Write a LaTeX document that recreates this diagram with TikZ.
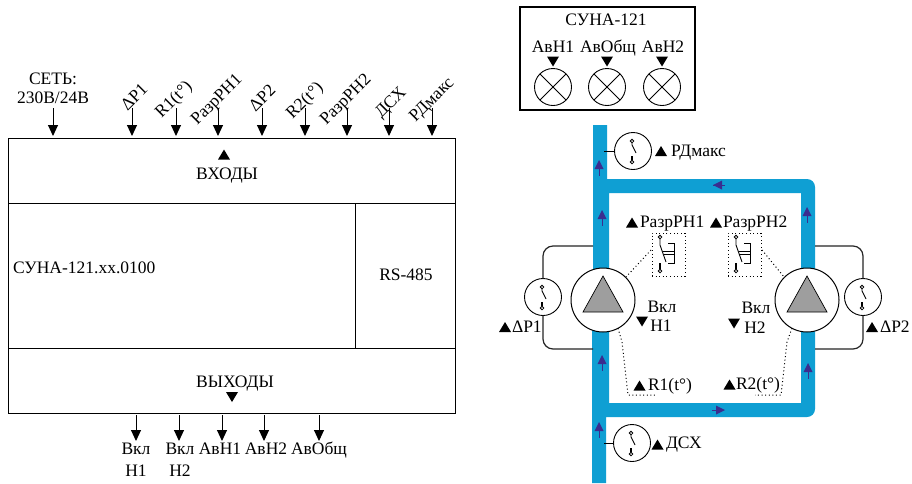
\documentclass[tikz,border=0pt]{standalone}
\usepackage{fontspec}
\setmainfont{Liberation Serif}
\usetikzlibrary{arrows.meta}
\definecolor{pipeblue}{HTML}{0F9FD3}
\definecolor{flowpurple}{HTML}{3A2D8F}
\newcommand{\uptri}[2]{\fill[black] (#1-6,#2+5) -- (#1,#2-5) -- (#1+6,#2+5) -- cycle;}
\newcommand{\dntri}[2]{\fill[black] (#1-6,#2-5) -- (#1+6,#2-5) -- (#1,#2+5) -- cycle;}
\newcommand{\flowup}[2]{\draw[flowpurple,line width=0.6pt] (#1,#2+8) -- (#1,#2+16); \fill[flowpurple] (#1,#2) -- (#1+4.5,#2+9) -- (#1-4.5,#2+9) -- cycle;}
\begin{document}
\begin{tikzpicture}[x=1pt,y=-1pt,
  every node/.style={font=\fontsize{17.5}{19}\selectfont,inner sep=0pt,outer sep=0pt},
  lbl/.style={text height=11.6pt,text depth=0pt},
  boxline/.style={draw=black,line width=1pt},
  sig/.style={black,line width=1pt,-{Triangle[length=11pt,width=10pt]}},
  slab/.style={lbl,rotate=45,anchor=center},
  lamp/.style={circle,draw=black,line width=0.9pt,fill=white,minimum size=37pt},
  sensor/.style={circle,draw=black,line width=0.9pt,fill=white,minimum size=37pt},
  pump/.style={circle,draw=black,line width=1pt,fill=white,minimum size=64pt},
  dots/.style={black,line width=1pt,dash pattern=on 1pt off 2.6pt},
  tube/.style={draw=black!85,line width=1.2pt,rounded corners=10pt},
  pics/sw/.style={code={
    \draw[line width=0.8pt,fill=white] (-1,-10) circle (1.8);
    \draw[line width=0.8pt,fill=white] (-1,11) circle (1.8);
    \draw[line width=0.9pt] (-1,-8.2) -- (-1,-6) -- (3,2);
    \draw[line width=1.1pt] (-1,5) -- (-1,9.2);
  }},
  pics/swp/.style={code={
    \draw[line width=0.8pt,fill=white] (0,-17) circle (1.8);
    \draw[line width=0.8pt,fill=white] (0,17) circle (1.8);
    \draw[line width=0.9pt] (0,-15.2) -- (0,-9) -- (6,8);
    \draw[line width=1.1pt] (0,9) -- (0,15.2);
    \draw[line width=0.9pt] (8,-11) -- (14,-11) -- (14,9) -- (8,9);
    \draw[line width=0.9pt] (3,-3) -- (14,-3) (3.5,0) -- (14,0);
  }}
]
\useasboundingbox (0,0) rectangle (912,483);
\fill[white] (0,0) rectangle (912,483);

% left block
\node[boxline,minimum width=447pt,minimum height=65pt,anchor=north west] (inp) at (8,138) {};
\node[boxline,minimum width=347pt,minimum height=145pt,anchor=north west] (core) at (8,203) {};
\node[boxline,minimum width=100pt,minimum height=145pt,anchor=north west] (rs) at (355,203) {};
\node[boxline,minimum width=447pt,minimum height=65pt,anchor=north west] (outp) at (8,348) {};
\node[lbl] (tinp) at (227,174) {ВХОДЫ};
\node[lbl,anchor=west] (tcore) at (13,268) {СУНА-121.хх.0100};
\node[lbl] (trs) at (406,275) {RS-485};
\node[lbl] (toutp) at (235,382) {ВЫХОДЫ};
\uptri{224}{154.5}
\dntri{232}{397}

% top inputs
\node[lbl] (net1) at (53,79) {СЕТЬ:};
\node[lbl] (net2) at (53,98) {230В/24В};
\node[slab] (l1) at (134,97) {ΔР1};
\node[slab] (l2) at (173,99) {R1(t°)};
\node[slab] (l3) at (216,99) {РазрРН1};
\node[slab] (l4) at (262,98) {ΔР2};
\node[slab] (l5) at (304,100) {R2(t°)};
\node[slab] (l6) at (345,99) {РазрРН2};
\node[slab] (l7) at (390,102) {ДСХ};
\node[slab] (l8) at (431,99) {РДмакс};
\foreach \n/\x in {a/53,b/132,c/176,d/218,e/262,f/305,g/347,h/389,i/432}{
  \coordinate (s\n) at (\x,108);
  \coordinate (e\n) at (\x,136);
  \draw[sig] (s\n) -- (e\n);
}

% bottom outputs
\foreach \n/\x in {a/136,b/179,c/222,d/264,e/319}{
  \coordinate (os\n) at (\x,415);
  \coordinate (oe\n) at (\x,441);
  \draw[sig] (os\n) -- (oe\n);
}
\node[lbl] (o1) at (136,449) {Вкл};
\node[lbl] (o1b) at (136,471) {Н1};
\node[lbl] (o2) at (180,449) {Вкл};
\node[lbl] (o2b) at (180,471) {Н2};
\node[lbl] (o3) at (220,449) {АвН1};
\node[lbl] (o4) at (266,449) {АвН2};
\node[lbl] (o5) at (319,449) {АвОбщ};

% alarm panel
\node[draw=black,line width=1.3pt,minimum width=175pt,minimum height=103pt,anchor=north west] (panel) at (520,7) {};
\node[lbl] (ptitle) at (606,20) {СУНА-121};
\node[lbl] (pa) at (553,47) {АвН1};
\node[lbl] (pb) at (608,47) {АвОбщ};
\node[lbl] (pc) at (663,47) {АвН2};
\foreach \x in {553,607,662}{\dntri{\x}{61.5}}
\foreach \n/\x in {la/553,lb/607,lc/662}{
  \node[lamp] (\n) at (\x,87) {};
  \draw[line width=0.8pt] (\n.45) -- (\n.225) (\n.135) -- (\n.315);
}

% pipes
\fill[pipeblue,even odd rule]
  (593,125) -- (607,125) -- (607,179) -- (807,179)
  .. controls (811.4,179) and (815,182.6) .. (815,187) -- (815,409)
  .. controls (815,413.4) and (811.4,417) .. (807,417) -- (606,417)
  -- (606,483) -- (592,483) -- (592,300) -- (593,300) -- cycle
  (609,193) -- (801,193) -- (801,403) -- (609,403) -- cycle;

% flows
\flowup{599}{160}
\flowup{602}{210}
\flowup{602}{355}
\flowup{599}{422}
\flowup{808}{363}
\flowup{807}{207}
\draw[flowpurple,line width=0.6pt] (713,185) -- (725,185);
\fill[flowpurple] (713,185) -- (722,180.5) -- (722,189.5) -- cycle;
\draw[flowpurple,line width=0.6pt] (712,410) -- (722,410);
\fill[flowpurple] (725,410) -- (716,405.5) -- (716,414.5) -- cycle;

% pressure loops
\node[sensor] (dp1) at (543,297) {};
\node[sensor] (dp2) at (863,297) {};
\coordinate (p1t) at (593,246);
\coordinate (p1b) at (593,349);
\coordinate (p2t) at (815,246);
\coordinate (p2b) at (815,349);
\draw[tube] (p1t) -- (543,246) -- (dp1.north);
\draw[tube] (dp1.south) -- (543,349) -- (p1b);
\draw[tube] (p2t) -- (863,246) -- (dp2.north);
\draw[tube] (dp2.south) -- (863,349) -- (p2b);
\pic at (dp1) {sw};
\pic at (dp2) {sw};

% pumps
\node[pump] (pu1) at (603,300) {};
\node[pump] (pu2) at (807,300) {};
\foreach \x in {603,807}{
  \draw[fill=black!38,line width=0.7pt] (\x,276) -- (\x+20,312) -- (\x-20,312) -- cycle;
}

% other sensors
\node[sensor] (rd) at (633,151) {};
\node[sensor] (ds) at (632,443) {};
\coordinate (rdp) at (604,151);
\coordinate (dsp) at (604,443);
\draw[black,line width=0.9pt] (rdp) -- (rd);
\draw[black,line width=0.9pt] (dsp) -- (ds);
\pic at (rd) {sw};
\pic at (ds) {sw};
\uptri{661}{151}
\node[lbl,anchor=west] (trd) at (671,151) {РДмакс};
\uptri{657.5}{444.5}
\node[lbl,anchor=west] (tds) at (666,443) {ДСХ};

% dry-run pressure relays
\node[dots,draw,minimum width=33pt,minimum height=43pt,anchor=north west] (rz1) at (652,233) {};
\node[dots,draw,minimum width=33pt,minimum height=43pt,anchor=north west] (rz2) at (728,233) {};
\pic at (660,254) {swp};
\pic at (736,254) {swp};
\coordinate (rz1a) at (651,250);
\coordinate (rz2a) at (762,250);
\draw[dots] (rz1a) -- (pu1.north east);
\draw[dots] (rz2a) -- (pu2.north west);
\uptri{632}{222.5}
\node[lbl,anchor=west] (trz1) at (640,222) {РазрРН1};
\uptri{716}{222.5}
\node[lbl,anchor=west] (trz2) at (723,222) {РазрРН2};

% temperature dotted leads
\coordinate (r1a) at (628,395);
\coordinate (r1b) at (655,395);
\coordinate (r2a) at (781,395);
\coordinate (r2b) at (755,395);
\draw[dots] (pu1.-62) -- (622,342) -- (r1a) -- (r1b);
\draw[dots] (pu2.242) -- (787,342) -- (r2a) -- (r2b);
\uptri{639.5}{385.5}
\node[lbl,anchor=west] (tr1) at (648,385) {R1(t°)};
\uptri{729.5}{384.5}
\node[lbl,anchor=west] (tr2) at (736,384) {R2(t°)};

% labels near pumps
\uptri{505}{327}
\node[lbl,anchor=west] (td1) at (512,327) {ΔР1};
\uptri{872}{327}
\node[lbl,anchor=west] (td2) at (880,327) {ΔР2};
\node[lbl] (v1) at (662,307) {Вкл};
\node[lbl] (v1b) at (661,326) {Н1};
\dntri{642}{321.5}
\node[lbl] (v2) at (756,308) {Вкл};
\node[lbl] (v2b) at (755,328) {Н2};
\dntri{734}{323.5}
\end{tikzpicture}
\end{document}
